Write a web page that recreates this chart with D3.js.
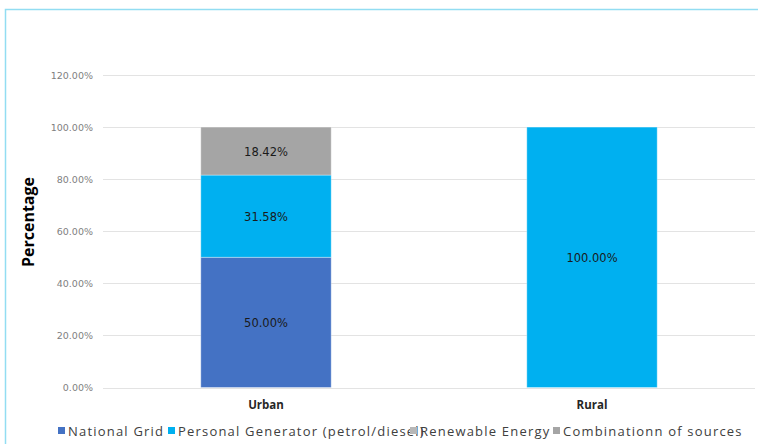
<!DOCTYPE html>
<html><head><meta charset="utf-8">
<script src="https://cdn.jsdelivr.net/npm/d3@7"></script>
<style>html,body{margin:0;padding:0;background:#fff}svg{display:block}</style>
</head><body>
<svg id="c" width="758" height="444"></svg>
<script>
const categories = ["Urban", "Rural"];
const seriesNames = ["National Grid", "Personal Generator (petrol/diesel)", "Renewable Energy", "Combinationn of sources"];
const nationalGrid = [0.50, 0.00];
const personalGenerator = [0.3158, 1.00];
const renewableEnergy = [0.00, 0.00];
const combination = [0.1842, 0.00];
const yTicks = [0, 0.2, 0.4, 0.6, 0.8, 1.0, 1.2];
const colors = ["#4472C4", "#00B0F0", "#B7B7B7", "#A5A5A5"];

const seriesValues = [nationalGrid, personalGenerator, renewableEnergy, combination];
const rows = categories.map((c, i) => {
  const r = {cat: c};
  seriesNames.forEach((s, k) => r[s] = seriesValues[k][i]);
  return r;
});

const svg = d3.select("#c");
// frame
svg.append("path").attr("d", "M5.5,444 V9.5 H758").attr("fill", "none")
  .attr("stroke", "#92DDF2").attr("stroke-width", 1.5);

const x = d3.scaleBand().domain(categories).range([103, 755]).padding(0);
const y = d3.scaleLinear().domain([0, 1.2]).range([387.5, 75]);
const barW = x.bandwidth() * 0.4;

// gridlines
svg.append("g").selectAll("line").data(yTicks).join("line")
  .attr("x1", 103).attr("x2", 755)
  .attr("y1", d => Math.round(y(d)) + 0.5).attr("y2", d => Math.round(y(d)) + 0.5)
  .attr("stroke", "#E3E3E3").attr("stroke-width", 1);

// y axis labels
const yAxis = d3.axisLeft(y).tickValues(yTicks).tickSize(0).tickPadding(0)
  .tickFormat(d => (d * 100).toFixed(2) + "%");
const ga = svg.append("g").attr("transform", "translate(93,0)").call(yAxis);
ga.select(".domain").remove();
ga.selectAll("text").attr("fill", "#7F7F7F").style("font-family", "DejaVu Sans")
  .style("font-size", "9.5px");

// stacked bars
const stack = d3.stack().keys(seriesNames)(rows);
const g = svg.append("g");
stack.forEach((layer, k) => {
  layer.forEach(d => {
    const v = d[1] - d[0];
    if (v <= 0) return;
    const cx = x(d.data.cat) + x.bandwidth() / 2;
    g.append("rect")
      .attr("x", cx - barW / 2).attr("y", y(d[1]))
      .attr("width", barW).attr("height", y(d[0]) - y(d[1]))
      .attr("fill", colors[k]).attr("stroke", "rgba(255,255,255,0.35)").attr("stroke-width", 1);
    g.append("text").attr("x", cx).attr("y", (y(d[0]) + y(d[1])) / 2 + 5)
      .attr("text-anchor", "middle").attr("fill", "#1a1a1a")
      .style("font-family", "DejaVu Sans").style("font-size", "11.5px")
      .text((v * 100).toFixed(2) + "%");
  });
});

// category labels
const xAxis = d3.axisBottom(x).tickSize(0).tickPadding(0);
const gx = svg.append("g").attr("transform", "translate(0,401)").call(xAxis);
gx.select(".domain").remove();
gx.selectAll("text").attr("fill", "#262626").style("font-family", "Open Sans")
  .style("font-size", "11.5px").style("font-weight", "bold");

// y title
svg.append("text").attr("transform", "translate(34,222) rotate(-90)")
  .attr("text-anchor", "middle").attr("fill", "#000")
  .style("font-family", "Open Sans").style("font-size", "16px").style("font-weight", "bold")
  .text("Percentage");

// legend
const legendX = [58, 168, 410, 553];
const lg = svg.append("g");
seriesNames.forEach((s, k) => {
  lg.append("text").attr("x", legendX[k] + 10).attr("y", 436)
    .attr("fill", "#404040").style("font-family", "Open Sans").style("font-size", "13px")
    .style("letter-spacing", "1.2px").text(s);
});
seriesNames.forEach((s, k) => {
  lg.append("rect").attr("x", legendX[k]).attr("y", 427).attr("width", 7).attr("height", 7)
    .attr("fill", colors[k]);
});
</script>
</body></html>
